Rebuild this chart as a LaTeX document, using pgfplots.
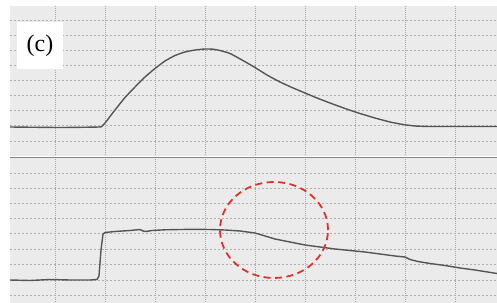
\documentclass[border=0pt]{standalone}
\usepackage{pgfplots}
\pgfplotsset{compat=1.18}
\usepackage{fontspec}
\setmainfont{Liberation Serif}
\definecolor{panelbg}{HTML}{EBEBEB}
\definecolor{vgrid}{HTML}{A8A8A8}
\definecolor{hgrid}{HTML}{B0B0B0}
\definecolor{trace}{HTML}{555555}
\definecolor{sep}{HTML}{858585}
\definecolor{ellred}{HTML}{E0312F}
\pgfplotsset{
  scopestyle/.style={
    scale only axis,
    width=487bp,
    xmin=10, xmax=497,
    y dir=reverse,
    axis background/.style={fill=panelbg},
    axis line style={draw=none},
    major tick length=0pt,
    xticklabels={}, yticklabels={},
    xtick={55,105,155,205,255,305,355,405,455},
    grid=major,
    x grid style={vgrid, line width=0.6bp, dash pattern=on 0.8bp off 1.2bp},
    y grid style={hgrid, line width=0.8bp, dash pattern=on 1.6bp off 2.4bp},
  }
}
\begin{document}
\begin{tikzpicture}
\useasboundingbox (0,0) rectangle (497bp,303bp);
% top panel
\begin{axis}[scopestyle,
  at={(10bp,297bp)}, anchor=north west,
  height=150bp, ymin=6, ymax=156,
  ytick={20,35,50,65,80,95,110,125,141}]
\addplot[trace, line width=1.4bp, smooth, tension=0.3] coordinates {
(10,127)(60,127.5)(99,127)(102,126)(105,123)(110,116.5)(115,110)(125,97.5)(135,87)(145,77)(155,68.5)(165,61)(175,55.5)(185,52)(195,50)(205,49)(213,49.2)(220,50.5)(230,53.5)(242,60)(255,67.5)(267,75)(280,82)(292,87.5)(305,93)(317,98)(330,103)(345,108.5)(360,113.5)(375,118)(390,122)(403,124.5)(415,126)(430,126.5)(460,126.5)(497,126.5)};
\node[fill=white, minimum width=46bp, minimum height=47bp, inner sep=0pt,
  font=\fontsize{24}{28}\selectfont] at (axis cs:40,45.5) {(c)};
\end{axis}
% bottom panel
\begin{axis}[scopestyle,
  at={(10bp,146bp)}, anchor=north west,
  height=146bp, ymin=157, ymax=303,
  ytick={173,188,203,218,233,249,264,280,295}]
\addplot[trace, line width=1.4bp] coordinates {
(10,280)(30,280.5)(50,279.5)(70,280)(90,280)(97,279.5)(99,276)(101,250)(103,234)(105,232.5)(115,231.5)(130,230.5)(140,229.5)(143,231)(146,231.5)(152,230.5)(165,229.8)(180,229.5)(195,229.3)(210,229.5)(225,230)(240,231)(255,233)(265,236)(275,239)(285,241)(295,243)(305,245)(320,247)(335,249)(350,250.5)(365,252)(380,254)(395,256)(405,257)(410,259.5)(418,261.5)(430,263.5)(445,265.5)(460,268)(475,270)(497,273.5)};
\draw[sep, line width=2bp] (axis cs:10,157) -- (axis cs:497,157);
\draw[ellred, line width=1.8bp, dash pattern=on 7bp off 4.5bp] (axis cs:274,230) ellipse [x radius=54bp, y radius=48bp];
\end{axis}
\end{tikzpicture}
\end{document}
